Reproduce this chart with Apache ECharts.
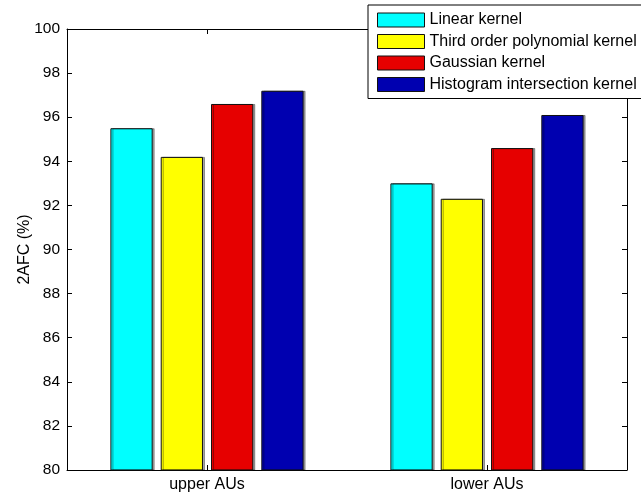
<!DOCTYPE html>
<html>
<head>
<meta charset="utf-8">
<script src="https://cdn.jsdelivr.net/npm/echarts@6/dist/echarts.min.js"></script>
<style>
html,body{margin:0;padding:0;background:#fff;}
#chart{width:641px;height:498px;}
</style>
</head>
<body>
<div id="chart"></div>
<script>
var categories = ['upper AUs', 'lower AUs'];
var seriesNames = ['Linear kernel', 'Third order polynomial kernel', 'Gaussian kernel', 'Histogram intersection kernel'];
var linearKernel = [95.5, 93.0];
var polyKernel = [94.2, 92.3];
var gaussianKernel = [96.6, 94.6];
var histKernel = [97.2, 96.1];
var seriesColors = ['#00FFFF', '#FFFF00', '#E60000', '#0000B0'];
var yTicks = [80, 82, 84, 86, 88, 90, 92, 94, 96, 98, 100];

var FONT = 'Liberation Sans, Arial, Helvetica, sans-serif';
var values = [linearKernel, polyKernel, gaussianKernel, histKernel];

var chart = echarts.init(document.getElementById('chart'), null, {renderer: 'canvas'});
var series = seriesNames.map(function (n, i) {
  return {
    name: n,
    type: 'bar',
    data: values[i],
    barGap: '19%',
    barCategoryGap: '31%',
    itemStyle: {
      color: seriesColors[i],
      borderColor: '#111',
      borderWidth: 1,
      shadowColor: 'rgba(0,0,0,0.35)',
      shadowOffsetX: 2,
      shadowOffsetY: 0,
      shadowBlur: 0
    }
  };
});

var axisLine = {show: true, lineStyle: {color: '#000', width: 1}};
chart.setOption({
  animation: false,
  backgroundColor: '#fff',
  textStyle: {fontFamily: FONT},
  grid: {left: 67, right: 14, top: 29, bottom: 28, containLabel: false},
  legend: {
    data: seriesNames,
    orient: 'vertical',
    left: 368,
    top: 5,
    padding: [7, 10, 6, 9],
    itemGap: 5.5,
    itemWidth: 47,
    itemHeight: 14,
    icon: 'rect',
    backgroundColor: '#fff',
    borderColor: '#000',
    borderWidth: 1,
    itemStyle: {borderColor: '#111', borderWidth: 1},
    textStyle: {fontFamily: FONT, fontSize: 16, color: '#000', lineHeight: 14}
  },
  xAxis: [{
    type: 'category',
    data: categories,
    position: 'bottom',
    axisLine: axisLine,
    axisTick: {show: true, inside: true, alignWithLabel: true, length: 5, lineStyle: {color: '#000'}},
    axisLabel: {fontFamily: FONT, fontSize: 16, color: '#000', margin: 7}
  }, {
    type: 'category',
    data: categories,
    position: 'top',
    axisLine: axisLine,
    axisTick: {show: true, inside: true, alignWithLabel: true, length: 5, lineStyle: {color: '#000'}},
    axisLabel: {show: false}
  }],
  yAxis: [{
    type: 'value',
    min: yTicks[0],
    max: yTicks[yTicks.length - 1],
    interval: 2,
    position: 'left',
    name: '2AFC (%)',
    nameLocation: 'middle',
    nameGap: 34,
    nameRotate: 90,
    nameMoveOverlap: false,
    nameTextStyle: {fontFamily: FONT, fontSize: 16, color: '#000'},
    axisLine: axisLine,
    axisTick: {show: true, inside: true, length: 5, lineStyle: {color: '#000'}},
    axisLabel: {fontFamily: FONT, fontSize: 15.5, color: '#000', margin: 7},
    splitLine: {show: false}
  }, {
    type: 'value',
    min: yTicks[0],
    max: yTicks[yTicks.length - 1],
    interval: 2,
    position: 'right',
    axisLine: axisLine,
    axisTick: {show: true, inside: true, length: 5, lineStyle: {color: '#000'}},
    axisLabel: {show: false},
    splitLine: {show: false}
  }],
  series: series
});
</script>
</body>
</html>
